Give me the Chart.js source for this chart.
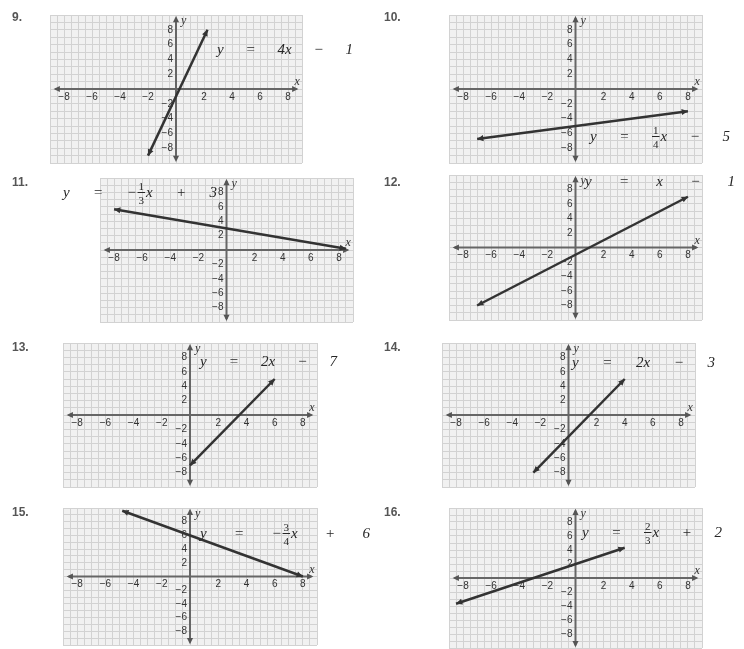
<!DOCTYPE html>
<html>
<head>
<meta charset="utf-8">
<script src="https://cdn.jsdelivr.net/npm/chart.js@4.4.0/dist/chart.umd.min.js"></script>
<style>
  html, body { margin: 0; padding: 0; background: #fff; }
  #wrap { position: relative; width: 744px; height: 649px; overflow: hidden; }
  .panel { position: absolute; width: 372px; }
  .panel canvas { display: block; }
  .num { position: absolute; left: 12px; top: 10px; font: bold 12px "Liberation Sans", sans-serif; color: #555; }
</style>
</head>
<body>
<div id="wrap"></div>
<script>
// problem data
const problemNumbers = ['9.', '10.', '11.', '12.', '13.', '14.', '15.', '16.']
const equations = [
  ['y', '=', '4x', '−', '1'],
  ['y', '=', { n: '1', d: '4', tail: 'x' }, '−', '5'],
  ['y', '=', { sign: '−', n: '1', d: '3', tail: 'x' }, '+', '3'],
  ['y', '=', 'x', '−', '1'],
  ['y', '=', '2x', '−', '7'],
  ['y', '=', '2x', '−', '3'],
  ['y', '=', { sign: '−', n: '3', d: '4', tail: 'x' }, '+', '6'],
  ['y', '=', { n: '2', d: '3', tail: 'x' }, '+', '2']
]
// end points of each graphed line
const lineX = [[-2, 2.25], [-7, 8], [-8, 8.5], [-7, 8], [0, 6], [-2.5, 4], [-4.8, 8], [-8.5, 3.5]]
const lineY = [[-9, 8], [-6.75, -3], [5.67, 0.17], [-8, 7], [-7, 5], [-8, 5], [9.6, 0], [-3.67, 4.33]]
const xTickValues = [-8, -6, -4, -2, 2, 4, 6, 8]
const yTickValues = [-8, -6, -4, -2, 2, 4, 6, 8]

// layout (page pixels): grid rectangles and equation label boxes
const gridRects = [
  [50, 15, 302, 163], [449, 15, 702, 163],
  [100, 178, 353, 322], [449, 175, 702, 320],
  [63, 343, 317, 487], [442, 343, 695, 487],
  [63, 508, 317, 645], [449, 508, 702, 648]
]
const labelBoxes = [
  [217, 54, 136], [590, 141, 140],
  [63, 197, 154], [585, 186, 150],
  [200, 366, 137], [572, 367, 143],
  [200, 538, 170], [582, 537, 140]
]

const fmt = v => (v < 0 ? '−' + Math.abs(v) : String(v))

function tokenWidth (ctx, t) {
  if (typeof t === 'string') {
    ctx.font = 'italic 15px "Liberation Serif"'
    return ctx.measureText(t).width
  }
  ctx.font = '11px "Liberation Serif"'
  const fw = Math.max(ctx.measureText(t.n).width, ctx.measureText(t.d).width) + 2
  ctx.font = 'italic 15px "Liberation Serif"'
  const sw = t.sign ? ctx.measureText(t.sign).width + 1 : 0
  return sw + fw + ctx.measureText(t.tail).width + 1
}

function drawEquation (ctx, tokens, x, y, width) {
  const widths = tokens.map(t => tokenWidth(ctx, t))
  const total = widths.reduce((a, b) => a + b, 0)
  const gap = (width - total) / (tokens.length - 1)
  ctx.fillStyle = '#262626'
  ctx.strokeStyle = '#262626'
  ctx.textBaseline = 'alphabetic'
  ctx.textAlign = 'left'
  let cx = x
  tokens.forEach((t, i) => {
    if (typeof t === 'string') {
      ctx.font = 'italic 15px "Liberation Serif"'
      ctx.fillText(t, cx, y)
    } else {
      let px = cx
      ctx.font = 'italic 15px "Liberation Serif"'
      if (t.sign) {
        ctx.fillText(t.sign, px, y)
        px += ctx.measureText(t.sign).width + 1
      }
      ctx.font = '11px "Liberation Serif"'
      const fw = Math.max(ctx.measureText(t.n).width, ctx.measureText(t.d).width) + 2
      ctx.textAlign = 'center'
      ctx.fillText(t.n, px + fw / 2, y - 7)
      ctx.fillText(t.d, px + fw / 2, y + 7)
      ctx.lineWidth = 1
      ctx.beginPath()
      ctx.moveTo(px, y - 4.5)
      ctx.lineTo(px + fw, y - 4.5)
      ctx.stroke()
      ctx.textAlign = 'left'
      ctx.font = 'italic 15px "Liberation Serif"'
      ctx.fillText(t.tail, px + fw + 1, y)
    }
    cx += widths[i] + gap
  })
}

function arrowHead (ctx, x, y, ang, size) {
  ctx.beginPath()
  ctx.moveTo(x, y)
  ctx.lineTo(x - size * Math.cos(ang - 0.45), y - size * Math.sin(ang - 0.45))
  ctx.lineTo(x - size * Math.cos(ang + 0.45), y - size * Math.sin(ang + 0.45))
  ctx.closePath()
  ctx.fill()
}

const paperPlugin = {
  id: 'paper',
  beforeDraw (chart) {
    const a = chart.chartArea
    const ctx = chart.ctx
    ctx.save()
    ctx.fillStyle = '#f1f1f1'
    ctx.fillRect(a.left, a.top, a.right - a.left, a.bottom - a.top)
    ctx.restore()
  },
  beforeDatasetsDraw (chart) {
    const ctx = chart.ctx
    const xs = chart.scales.x
    const ys = chart.scales.y
    const x0 = xs.getPixelForValue(0)
    const y0 = ys.getPixelForValue(0)
    const xl = xs.getPixelForValue(-8.6)
    const xr = xs.getPixelForValue(8.6)
    const yt = ys.getPixelForValue(9.6)
    const yb = ys.getPixelForValue(-9.6)
    ctx.save()
    ctx.strokeStyle = '#666'
    ctx.fillStyle = '#555'
    ctx.lineWidth = 2
    ctx.beginPath()
    ctx.moveTo(xl, y0); ctx.lineTo(xr, y0)
    ctx.moveTo(x0, yt); ctx.lineTo(x0, yb)
    ctx.stroke()
    arrowHead(ctx, xr + 2, y0, 0, 7)
    arrowHead(ctx, xl - 2, y0, Math.PI, 7)
    arrowHead(ctx, x0, yt - 2, -Math.PI / 2, 7)
    arrowHead(ctx, x0, yb + 2, Math.PI / 2, 7)

    ctx.fillStyle = '#333'
    ctx.font = '10px "Liberation Sans"'
    ctx.textAlign = 'center'
    ctx.textBaseline = 'top'
    xTickValues.forEach(v => ctx.fillText(fmt(v), xs.getPixelForValue(v), y0 + 3))
    ctx.textAlign = 'right'
    ctx.textBaseline = 'middle'
    yTickValues.forEach(v => ctx.fillText(fmt(v), x0 - 3, ys.getPixelForValue(v)))
    ctx.textAlign = 'left'
    ctx.textBaseline = 'alphabetic'
    ctx.font = 'italic 12px "Liberation Serif"'
    ctx.fillText('y', x0 + 5, yt + 6)
    ctx.fillText('x', xr - 2, y0 - 4)
    ctx.restore()
  },
  afterDatasetsDraw (chart, args, opts) {
    const ctx = chart.ctx
    const pts = chart.getDatasetMeta(0).data
    ctx.save()
    ctx.fillStyle = '#333'
    const a = pts[0]
    const b = pts[pts.length - 1]
    const ang = Math.atan2(b.y - a.y, b.x - a.x)
    arrowHead(ctx, b.x, b.y, ang, 7)
    arrowHead(ctx, a.x, a.y, ang + Math.PI, 7)
    const box = labelBoxes[opts.index]
    drawEquation(ctx, equations[opts.index], box[0] - opts.offX, box[1] - opts.offY, box[2])
    ctx.restore()
  }
}

const wrap = document.getElementById('wrap')
problemNumbers.forEach((num, i) => {
  const col = i % 2
  const row = Math.floor(i / 2)
  const offX = col * 372
  const offY = row * 165
  const h = row === 3 ? 154 : 165
  const div = document.createElement('div')
  div.className = 'panel'
  div.style.left = offX + 'px'
  div.style.top = offY + 'px'
  div.style.height = h + 'px'
  const canvas = document.createElement('canvas')
  canvas.width = 372
  canvas.height = h
  div.appendChild(canvas)
  const label = document.createElement('div')
  label.className = 'num'
  label.textContent = num
  div.appendChild(label)
  wrap.appendChild(div)

  const g = gridRects[i]
  const points = lineX[i].map((x, k) => ({ x, y: lineY[i][k] }))
  new Chart(canvas.getContext('2d'), {
    type: 'scatter',
    data: {
      datasets: [{
        data: points,
        showLine: true,
        borderColor: '#333',
        borderWidth: 2.5,
        pointRadius: 0
      }]
    },
    options: {
      responsive: false,
      animation: false,
      layout: {
        padding: { left: g[0] - offX, top: g[1] - offY, right: 372 - (g[2] - offX), bottom: h - (g[3] - offY) }
      },
      plugins: {
        legend: { display: false },
        tooltip: { enabled: false },
        paper: { index: i, offX, offY }
      },
      scales: {
        x: {
          type: 'linear',
          min: -9,
          max: 9,
          ticks: { display: false, stepSize: 0.5, maxTicksLimit: 100, autoSkip: false },
          grid: { color: '#d2d2d2', drawTicks: false, lineWidth: 1 },
          border: { display: false }
        },
        y: {
          type: 'linear',
          min: -10,
          max: 10,
          ticks: { display: false, stepSize: 1, maxTicksLimit: 100, autoSkip: false },
          grid: { color: '#d2d2d2', drawTicks: false, lineWidth: 1 },
          border: { display: false }
        }
      }
    },
    plugins: [paperPlugin]
  })
})
</script>
</body>
</html>
